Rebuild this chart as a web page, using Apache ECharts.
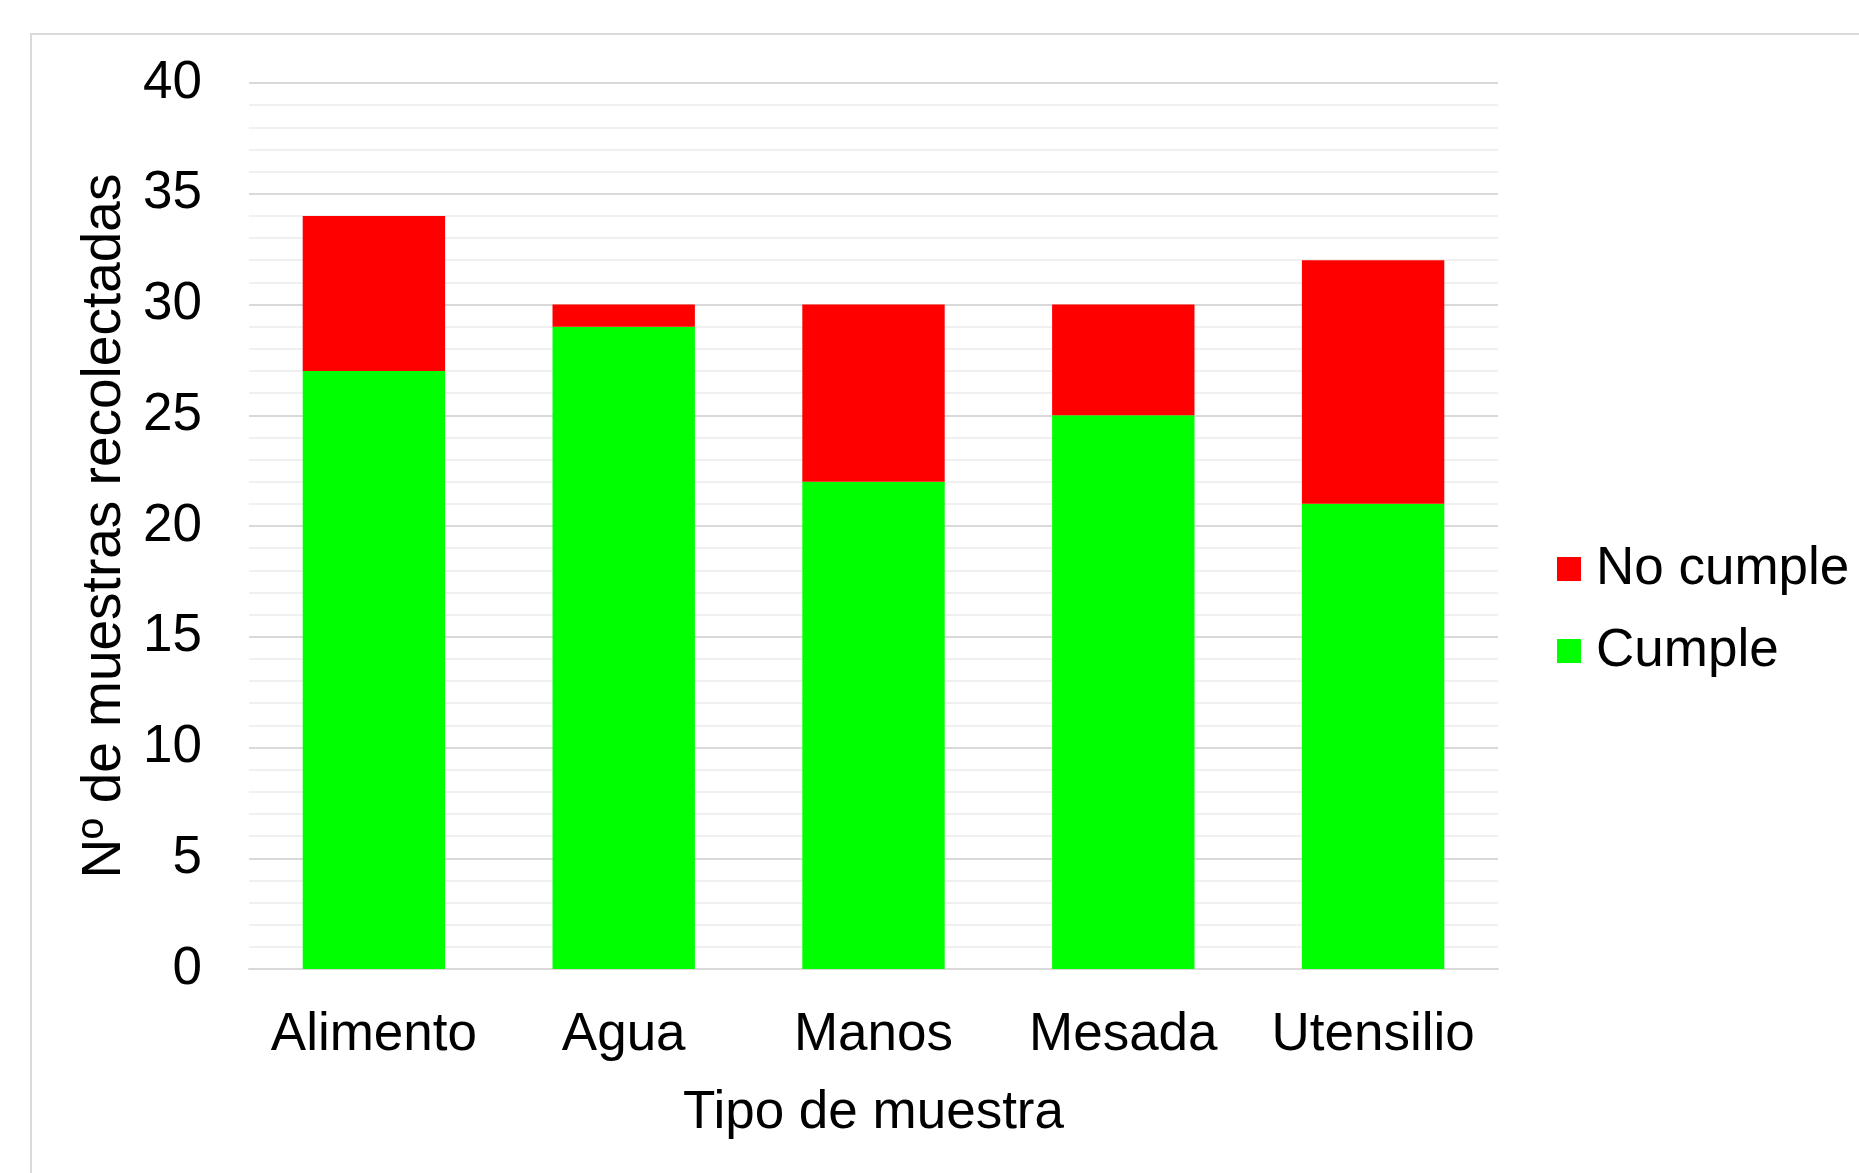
<!DOCTYPE html>
<html>
<head>
<meta charset="utf-8">
<script src="https://cdn.jsdelivr.net/npm/echarts@6/dist/echarts.min.js"></script>
<style>html,body{margin:0;padding:0;background:#fff;}#c{width:1859px;height:1173px;}</style>
</head>
<body>
<div id="c"></div>
<script>
const categories = ['Alimento', 'Agua', 'Manos', 'Mesada', 'Utensilio'];
const cumple = [27, 29, 22, 25, 21];
const noCumple = [7, 1, 8, 5, 11];
const yTicks = [0, 5, 10, 15, 20, 25, 30, 35, 40];

const chart = echarts.init(document.getElementById('c'));
const font = 'Liberation Sans, Arial, sans-serif';
chart.setOption({
  backgroundColor: '#fff',
  animation: false,
  graphic: [{
    type: 'rect',
    shape: { x: 31, y: 34, width: 1900, height: 1300 },
    style: { fill: 'none', stroke: '#d9d9d9', lineWidth: 2 },
    silent: true
  }],
  grid: { left: 249, right: 361, top: 83, bottom: 204 },
  legend: {
    orient: 'vertical',
    left: 1552,
    top: 534,
    data: ['No cumple', 'Cumple'],
    itemWidth: 24,
    itemHeight: 24,
    itemGap: 22,
    icon: 'rect',
    textStyle: { fontSize: 53, fontFamily: font, color: '#000', lineHeight: 60, padding: [0, 0, 0, 10] }
  },
  xAxis: {
    type: 'category',
    data: categories,
    name: 'Tipo de muestra',
    nameLocation: 'middle',
    nameGap: 118,
    nameTextStyle: { fontSize: 53, fontFamily: font, color: '#000' },
    axisLine: { lineStyle: { color: '#d9d9d9', width: 2 } },
    axisTick: { show: false },
    axisLabel: { interval: 0, fontSize: 53, fontFamily: font, color: '#000', margin: 40 }
  },
  yAxis: {
    type: 'value',
    min: 0,
    max: 40,
    interval: 5,
    name: 'Nº de muestras recolectadas',
    nameLocation: 'middle',
    nameGap: 116,
    nameTextStyle: { fontSize: 55, fontFamily: font, color: '#000' },
    axisLine: { show: false },
    axisTick: { show: false },
    axisLabel: { fontSize: 53, fontFamily: font, color: '#000', margin: 47,
      formatter: v => yTicks.includes(v) ? String(v) : '' },
    splitLine: { lineStyle: { color: '#d9d9d9', width: 2 } },
    minorTick: { show: false, splitNumber: 5 },
    minorSplitLine: { show: true, lineStyle: { color: '#ececec', width: 1.5 } }
  },
  series: [
    { name: 'Cumple', type: 'bar', stack: 's', data: cumple, barWidth: '57%', itemStyle: { color: '#00ff00' } },
    { name: 'No cumple', type: 'bar', stack: 's', data: noCumple, barWidth: '57%', itemStyle: { color: '#ff0000' } }
  ]
});
</script>
</body>
</html>
